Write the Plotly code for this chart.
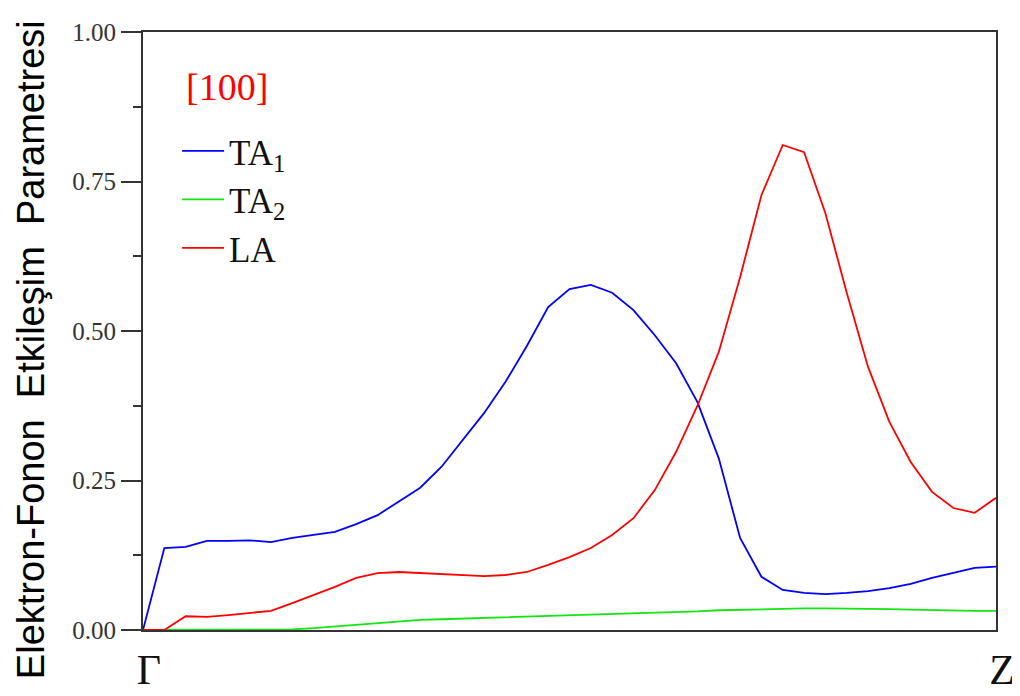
import plotly.graph_objects as go

# reduced wave-vector grid along Γ -> Z (41 sample points)
q_index = list(range(41))

ta1 = [0.000, 0.137, 0.139, 0.149, 0.149, 0.150, 0.147, 0.154, 0.159, 0.164,
       0.177, 0.192, 0.215, 0.238, 0.273, 0.318, 0.363, 0.415, 0.475, 0.540,
       0.570, 0.577, 0.564, 0.535, 0.493, 0.446, 0.381, 0.287, 0.154, 0.089,
       0.067, 0.062, 0.060, 0.062, 0.065, 0.070, 0.077, 0.087, 0.095, 0.104,
       0.106]

ta2 = [0.000, 0.000, 0.000, 0.000, 0.000, 0.000, 0.000, 0.001, 0.003, 0.006,
       0.009, 0.012, 0.015, 0.017, 0.018, 0.019, 0.020, 0.021, 0.022, 0.023,
       0.024, 0.025, 0.026, 0.027, 0.029, 0.030, 0.031, 0.033, 0.034, 0.035,
       0.036, 0.036, 0.036, 0.036, 0.035, 0.035, 0.034, 0.033, 0.033, 0.032,
       0.032]

la = [0.000, 0.000, 0.023, 0.022, 0.025, 0.028, 0.032, 0.045, 0.058, 0.072,
      0.087, 0.095, 0.097, 0.095, 0.094, 0.091, 0.090, 0.092, 0.097, 0.109,
      0.122, 0.137, 0.159, 0.187, 0.234, 0.298, 0.375, 0.465, 0.590, 0.727,
      0.811, 0.799, 0.697, 0.564, 0.440, 0.348, 0.281, 0.231, 0.204, 0.196,
      0.221]

x_tick_vals = [0, 40]
x_tick_text = ["Γ", "Z"]
y_tick_vals = [0, 0.25, 0.5, 0.75, 1.0]
y_tick_text = ["0.00", "0.25", "0.50", "0.75", "1.00"]

series = [("TA<sub>1</sub>", ta1, "#0000ff"),
          ("TA<sub>2</sub>", ta2, "#11e611"),
          ("LA", la, "#ff0000")]

fig = go.Figure()
for name, vals, col in series:
    fig.add_trace(go.Scatter(x=q_index, y=vals, mode="lines", name=name,
                             line=dict(color=col, width=1.8), cliponaxis=False))

# the page body adds an 8 px offset, margins compensate for it
fig.update_layout(
    width=1020, height=696,
    margin=dict(l=135, r=32, t=24, b=74, autoexpand=False),
    paper_bgcolor="white", plot_bgcolor="white",
    showlegend=True,
    legend=dict(x=0.04, y=0.85, xanchor="left", yanchor="top",
                font=dict(family="Liberation Serif", size=35, color="#111111"),
                bgcolor="rgba(0,0,0,0)", tracegroupgap=0, itemwidth=42),
    annotations=[
        dict(text="[100]", xref="paper", yref="paper", x=0.048, y=0.908,
             xanchor="left", yanchor="middle", showarrow=False,
             font=dict(family="Liberation Serif", size=38, color="#ff0000")),
        dict(text="Elektron-Fonon \u00a0Etkileşim \u00a0Parametresi", xref="paper", yref="paper",
             x=-(143 - 31) / 853, y=0.468, xanchor="center", yanchor="middle",
             textangle=-90, showarrow=False,
             font=dict(family="Liberation Sans", size=38, color="#000000")),
    ],
)

fig.update_xaxes(range=[0, 40], tickvals=x_tick_vals, ticktext=x_tick_text,
                 showgrid=False, zeroline=False, ticks="", automargin=False,
                 showline=True, linecolor="#333333", linewidth=2, mirror=True,
                 layer="below traces", ticklabelstandoff=2, ticklabelshift=6,
                 tickfont=dict(family="Liberation Serif", size=42, color="#111111"))
fig.update_yaxes(range=[0, 1], tickvals=y_tick_vals, ticktext=y_tick_text,
                 showgrid=False, zeroline=False, ticks="outside", ticklen=20,
                 tickwidth=1.5, tickcolor="#333333", automargin=False,
                 minor=dict(tickvals=[0.125, 0.375, 0.625, 0.875], ticks="outside",
                            ticklen=8, tickwidth=1.5, tickcolor="#333333"),
                 showline=True, linecolor="#333333", linewidth=2, mirror=True,
                 layer="below traces", ticklabelstandoff=0,
                 tickfont=dict(family="Liberation Serif", size=25, color="#333333"))

fig.write_html("out.html")
